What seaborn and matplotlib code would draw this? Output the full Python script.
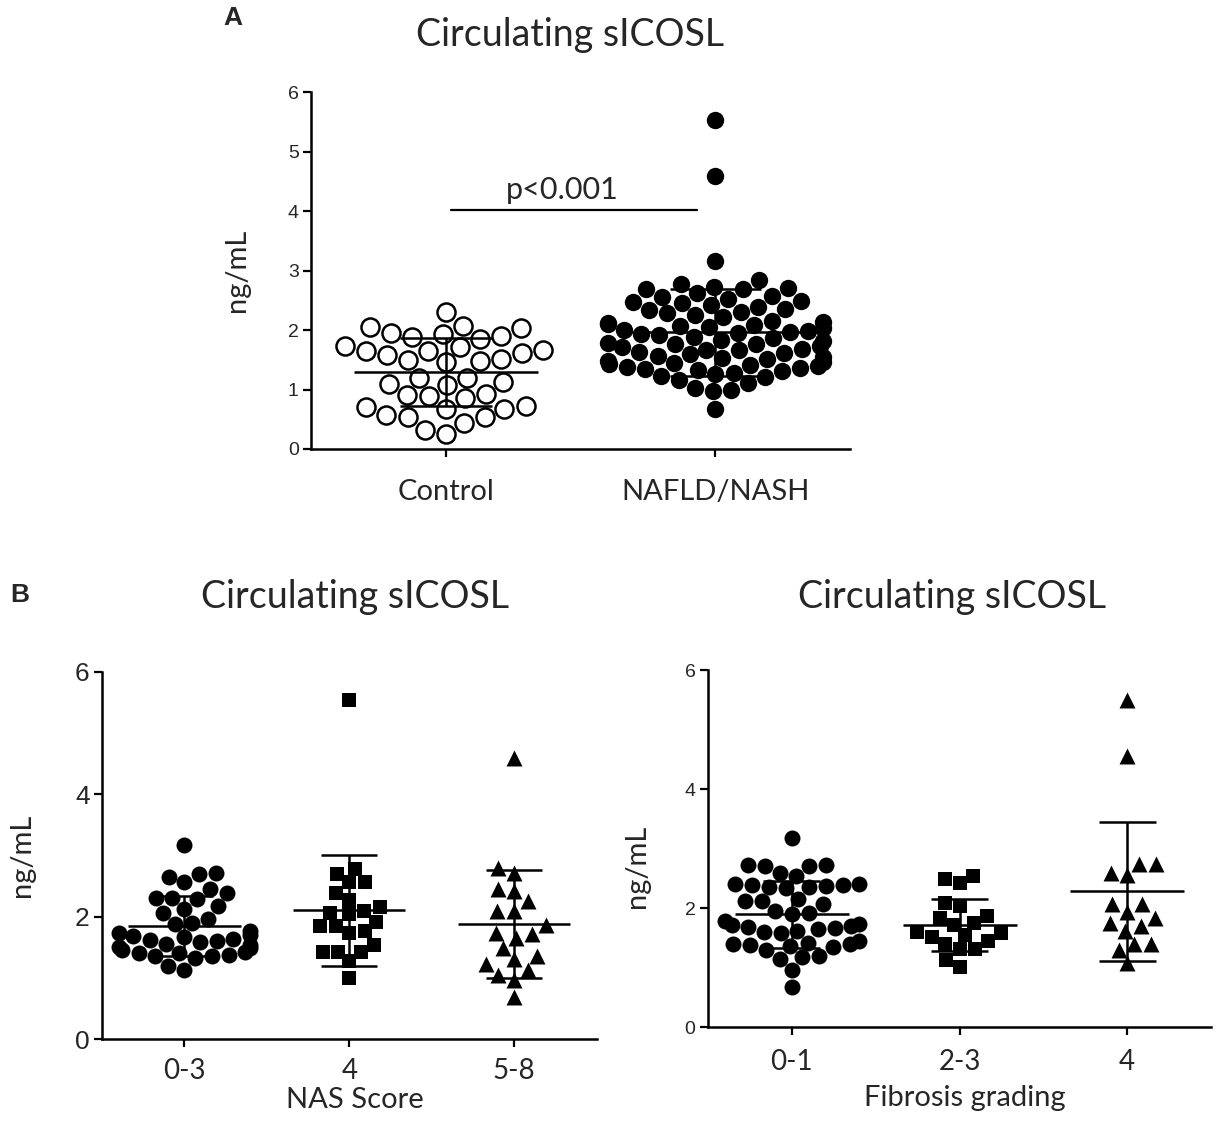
import numpy as np
import pandas as pd
import matplotlib
matplotlib.use("Agg")
import matplotlib.pyplot as plt
import seaborn as sns

# ---------------- data (ng/mL) ----------------
groups_a = ["Control", "NAFLD/NASH"]
control = [2.30, 2.07, 2.04, 2.06, 1.95, 1.90, 1.85, 1.88, 1.93, 1.72, 1.65, 1.62,
           1.51, 1.48, 1.46, 1.50, 1.58, 1.65, 1.66, 1.74, 1.20, 1.13, 1.08, 1.09,
           1.20, 0.92, 0.91, 0.89, 0.85, 0.72, 0.68, 0.68, 0.71, 0.54, 0.44, 0.53,
           0.57, 0.25, 0.32]
nafld = [5.53, 4.60, 3.17,
         2.84, 2.77, 2.72, 2.70, 2.71, 2.69, 2.62, 2.58, 2.56,
         2.53, 2.49, 2.45, 2.43, 2.39, 2.36, 2.34, 2.30, 2.28, 2.25, 2.22, 2.47,
         2.16, 2.14, 2.11, 2.09, 2.07, 2.05, 2.04, 2.01, 1.99, 1.97, 1.96, 1.93,
         1.91, 1.88, 1.86, 1.84, 1.81, 2.12,
         1.79, 1.77, 1.76, 1.73, 1.71, 1.69, 1.67, 1.66, 1.63, 1.61, 1.59, 1.57,
         1.55, 1.53, 1.51,
         1.48, 1.46, 1.44, 1.43, 1.41, 1.39, 1.38, 1.37, 1.35, 1.33, 1.31, 1.28,
         1.26, 1.23, 1.21,
         1.16, 1.11, 1.03, 0.99, 0.97, 0.68]

nas_groups = ["0-3", "4", "5-8"]
nas_03 = [3.17, 2.72, 2.69, 2.56, 2.64, 2.39, 2.31, 2.29, 2.30, 2.45, 2.12, 1.96,
          1.88, 1.89, 2.06, 2.17, 1.76, 1.73, 1.70, 1.68, 1.66, 1.64, 1.62, 1.60,
          1.58, 1.56, 1.54, 1.50, 1.48, 1.45, 1.43, 1.41, 1.40, 1.38, 1.36, 1.35,
          1.33, 1.13, 1.20]
nas_4 = [5.54, 2.78, 2.70, 2.56, 2.56, 2.39, 2.28, 2.06, 2.04, 2.09, 2.15, 1.92,
         1.84, 1.84, 1.76, 1.73, 1.54, 1.43, 1.43, 1.43, 1.27, 0.99]
nas_58 = [4.60, 2.80, 2.72, 2.45, 2.42, 2.25, 2.09, 2.09, 1.87, 1.71, 1.49, 1.65,
          1.73, 1.30, 1.13, 1.05, 0.97, 1.22, 1.35, 0.69]

fib_groups = ["0-1", "2-3", "4"]
fib_01 = [3.18, 2.72, 2.71, 2.73, 2.70, 2.59, 2.54, 2.40, 2.38, 2.37, 2.36, 2.39,
          2.35, 2.33, 2.41, 2.11, 2.06, 2.11, 2.15, 1.92, 1.90, 1.95,
          1.78, 1.74, 1.70, 1.68, 1.72, 1.66, 1.62, 1.60, 1.64, 1.58,
          1.45, 1.40, 1.38, 1.36, 1.42, 1.39, 1.34, 1.30,
          1.17, 1.20, 1.15, 0.96, 0.68]
fib_23 = [2.48, 2.42, 2.54, 2.03, 2.08, 1.84, 1.86, 1.72, 1.75, 1.55, 1.60, 1.58,
          1.52, 1.32, 1.44, 1.32, 1.40, 1.01, 1.13]
fib_4 = [5.49, 4.56, 2.74, 2.59, 2.55, 2.74, 2.06, 2.06, 1.94, 1.83, 1.69, 1.61,
         1.75, 1.39, 1.30, 1.39, 1.07]

title_text = "Circulating sICOSL"
ylabel_text = "ng/mL"

# ---------------- style ----------------
sns.set_style("white")
plt.rcParams["font.family"] = ["Lato", "DejaVu Sans"]
NUMFONT = "Liberation Sans"

fig = plt.figure(figsize=(12.25, 11.28), dpi=100)
axA = fig.add_axes([0.254, 0.602, 0.440, 0.316])
axBL = fig.add_axes([0.0833, 0.0789, 0.4038, 0.3254])
axBR = fig.add_axes([0.578, 0.0895, 0.4106, 0.3165])


def swarm(ax, cat, vals, order, marker, size, filled=True):
    df = pd.DataFrame({"g": [cat] * len(vals), "v": vals})
    if filled:
        sns.swarmplot(data=df, x="g", y="v", order=order, ax=ax, marker=marker,
                      size=size, color="black", linewidth=0, zorder=3)
    else:
        sns.swarmplot(data=df, x="g", y="v", order=order, ax=ax, marker=marker,
                      size=size, color="white", edgecolor="black",
                      linewidth=1.8, zorder=3)


def mean_sd(ax, pos, vals):
    m = float(np.mean(vals))
    s = float(np.std(vals, ddof=1))
    kw = dict(color="black", lw=1.8, zorder=6)
    ax.hlines(m, pos - 0.34, pos + 0.34, **kw)
    ax.vlines(pos, m - s, m + s, **kw)
    ax.hlines([m - s, m + s], pos - 0.17, pos + 0.17, **kw)


def style(ax, n, yticks, ysize, xsize, xpad):
    ax.set_xlim(-0.5, n - 0.5)
    ax.set_ylim(0, 6)
    ax.set_yticks(yticks)
    ax.set_yticklabels([str(t) for t in yticks], fontfamily=NUMFONT,
                       fontsize=ysize)
    for lab in ax.get_xticklabels():
        lab.set_fontsize(xsize)
    for sp in ["top", "right"]:
        ax.spines[sp].set_visible(False)
    for sp in ["left", "bottom"]:
        ax.spines[sp].set_linewidth(1.8)
        ax.spines[sp].set_color("black")
    ax.tick_params(axis="both", direction="out", length=6, width=1.6,
                   color="black", left=True, bottom=True)
    ax.tick_params(axis="x", pad=xpad)
    ax.tick_params(axis="y", pad=3)
    ax.set_xlabel("")
    ax.set_ylabel("")
    ax.set_facecolor("white")


# ---------------- panel A ----------------
swarm(axA, groups_a[0], control, groups_a, "o", 13, filled=False)
swarm(axA, groups_a[1], nafld, groups_a, "o", 12.5)
mean_sd(axA, 0, control)
mean_sd(axA, 1, nafld)
style(axA, 2, [0, 1, 2, 3, 4, 5, 6], 14, 21, 16)
axA.plot([0.02, 0.93], [4.03, 4.03], color="black", lw=1.6)
axA.text(0.43, 4.12, "p<0.001", ha="center", va="bottom", fontsize=22)
axA.set_ylabel(ylabel_text, fontsize=21)
axA.yaxis.set_label_coords(-0.113, 0.5)

# ---------------- panel B left ----------------
swarm(axBL, nas_groups[0], nas_03, nas_groups, "o", 11.5)
swarm(axBL, nas_groups[1], nas_4, nas_groups, "s", 10.5)
swarm(axBL, nas_groups[2], nas_58, nas_groups, "^", 11.5)
mean_sd(axBL, 0, nas_03)
mean_sd(axBL, 1, nas_4)
mean_sd(axBL, 2, nas_58)
style(axBL, 3, [0, 2, 4, 6], 19, 20, 8)
axBL.set_ylabel(ylabel_text, fontsize=21)
axBL.yaxis.set_label_coords(-0.135, 0.5)

# ---------------- panel B right ----------------
swarm(axBR, fib_groups[0], fib_01, fib_groups, "o", 11.5)
swarm(axBR, fib_groups[1], fib_23, fib_groups, "s", 10.5)
swarm(axBR, fib_groups[2], fib_4, fib_groups, "^", 11.5)
mean_sd(axBR, 0, fib_01)
mean_sd(axBR, 1, fib_23)
mean_sd(axBR, 2, fib_4)
style(axBR, 3, [0, 2, 4, 6], 14, 20, 10)
axBR.set_ylabel(ylabel_text, fontsize=21)
axBR.yaxis.set_label_coords(-0.115, 0.45)

# ---------------- titles / labels ----------------
fig.text(0.465, 0.969, title_text, ha="center", va="center", fontsize=27)
fig.text(0.290, 0.471, title_text, ha="center", va="center", fontsize=27)
fig.text(0.777, 0.471, title_text, ha="center", va="center", fontsize=27)
fig.text(0.290, 0.0248, "NAS Score", ha="center", va="center", fontsize=21)
fig.text(0.788, 0.0266, "Fibrosis grading", ha="center", va="center",
         fontsize=21)
fig.text(0.190, 0.984, "A", ha="center", va="center", fontsize=19,
         fontweight="bold", fontfamily="Liberation Sans")
fig.text(0.008, 0.4725, "B", ha="left", va="center", fontsize=19,
         fontweight="bold", fontfamily="Liberation Sans")

fig.savefig("out.png", dpi=100, facecolor="white")
